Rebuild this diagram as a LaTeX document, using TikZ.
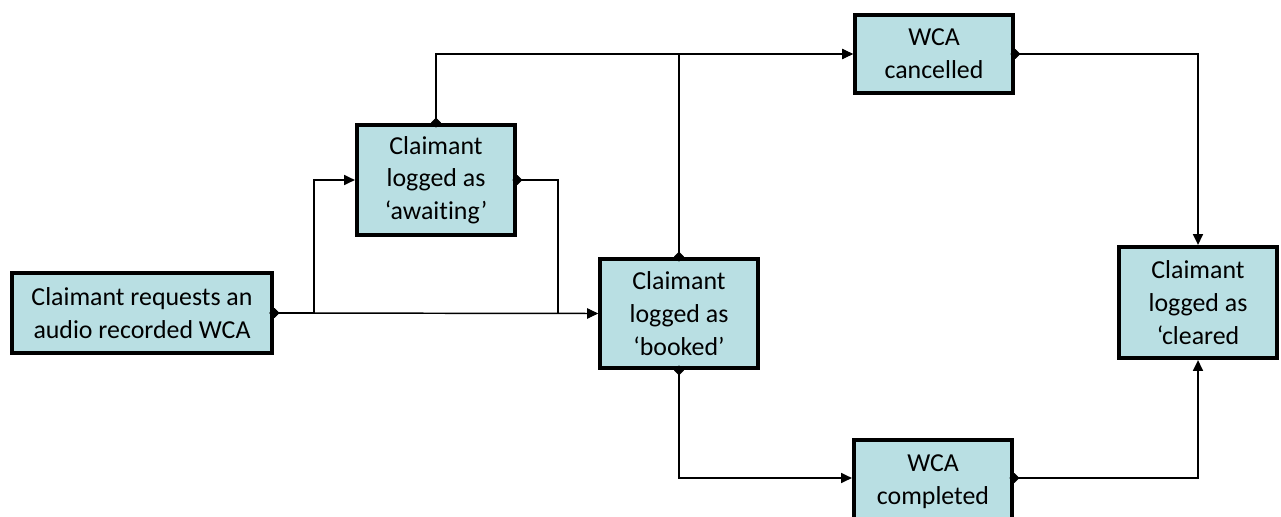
\documentclass[tikz,border=0pt]{standalone}
\usepackage{fontspec}
\setmainfont[Ligatures={NoCommon}]{Carlito}
\usetikzlibrary{arrows.meta}
\definecolor{boxfill}{RGB}{185,223,227}

\begin{document}
\begin{tikzpicture}[x=0.75pt,y=-0.75pt,
    stage/.style={draw=black,line width=3.2pt,fill=boxfill,align=center,inner sep=0pt,
        minimum width=118.5pt,font=\fontsize{19.4}{24.5}\selectfont},
    flow/.style={line width=1.1pt,{Diamond[length=7.5pt,width=7.5pt]}-{Triangle[length=8pt,width=7.5pt]},
        shorten <=-3.5pt}]
            \useasboundingbox (0,0) rectangle (1281,517);
            \node[stage,minimum width=195pt,minimum height=60pt] (req) at (142,313) {Claimant requests an\\audio recorded WCA};
            \node[stage,minimum height=82.5pt] (await) at (436,180) {Claimant\\logged as\\‘awaiting’};
            \node[stage,minimum height=81.75pt] (book) at (679,313.5) {Claimant\\logged as\\‘booked’};
            \node[stage,minimum height=58.5pt] (canc) at (934,54) {WCA\\cancelled};
            \node[stage,minimum height=63pt] (comp) at (933,482) {WCA\\completed};
            \node[stage,minimum height=83.25pt] (clear) at (1198,302.5) {Claimant\\logged as\\‘cleared};
            \draw[flow] (req.east) -- (book.west);
            \draw[flow] (req.east) -- ++(40,0) |- (await.west);
            \draw[flow] (await.east) -- ++(41,0) |- (book.west);
            \draw[flow] (await.north) |- (canc.west);
            \draw[flow] (book.north) |- (canc.west);
            \draw[flow] (book.south) |- ([yshift=3pt]comp.west);
            \draw[flow] ([yshift=3pt]comp.east) -| (clear.south);
        \draw[flow] (canc.east) -| (clear.north);
        \end{tikzpicture}
\end{document}
